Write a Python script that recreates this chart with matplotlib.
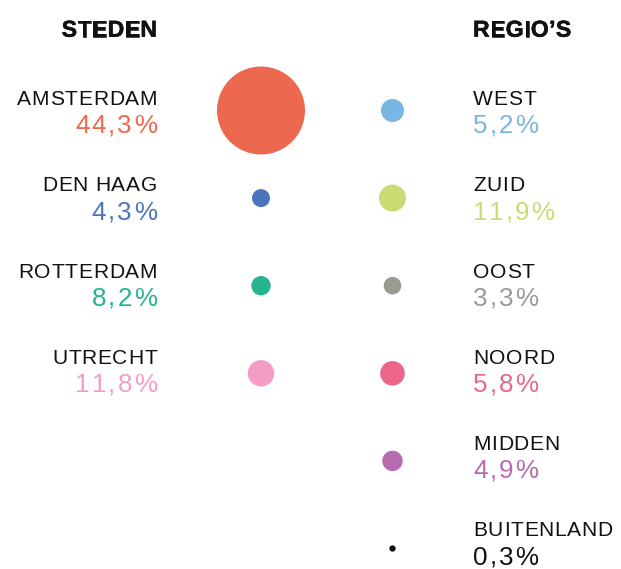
import matplotlib
matplotlib.use('Agg')
import matplotlib.pyplot as plt
import matplotlib.patheffects as pe
import numpy as np
from matplotlib.font_manager import FontProperties, findfont, get_font

# ---- data ----
cities = ['AMSTERDAM', 'DEN HAAG', 'ROTTERDAM', 'UTRECHT']
city_pct = [44.3, 4.3, 8.2, 11.8]
city_bubble = [44.3, 1.85, 2.15, 3.99]        # relative bubble area
city_colors = ['#EC684E', '#4A75BA', '#26B38F', '#F49CC4']

regions = ['WEST', 'ZUID', 'OOST', 'NOORD', 'MIDDEN', 'BUITENLAND']
region_pct = [5.2, 11.9, 3.3, 5.8, 4.9, 0.3]
region_bubble = [3.03, 4.17, 1.77, 3.46, 2.38, 0.23]
region_colors = ['#7AB6E3', '#CBDA72', '#9A9A90', '#EC6689', '#B86AAE', '#111111']

headings = ['STEDEN', 'REGIO\u2019S']

# ---- figure ----
W, H, DPI = 621, 569, 100
fig = plt.figure(figsize=(W / DPI, H / DPI), dpi=DPI)
ax = fig.add_axes([0, 0, 1, 1])
ax.set_axis_off()

col_px = (261, 392.5)
row0_px, row_step = 110.5, 87.6
text_row_scale = 86.3 / 87.6
x_unit = col_px[1] - col_px[0]
ax.set_xlim(-col_px[0] / x_unit, (W - col_px[0]) / x_unit)
ax.set_ylim((H - row0_px) / row_step, -row0_px / row_step)

R_MAX_PX = 44.0
ref_val = max(city_bubble)


def sizes(vals):
    r_px = R_MAX_PX * np.sqrt(np.asarray(vals) / ref_val)
    return (2 * r_px * 72 / DPI) ** 2


ax.scatter(np.zeros(len(cities)), np.arange(len(cities)), s=sizes(city_bubble),
           c=city_colors, linewidths=0, zorder=2)
ax.scatter(np.ones(len(regions)), np.arange(len(regions)), s=sizes(region_bubble),
           c=region_colors, linewidths=0, zorder=2)


def tracked(x, y, s, dx, dy, track, ha, size_px, color, weight='normal',
            family='Liberation Sans', effects=None):
    size_pt = size_px * 72 / DPI
    prop = FontProperties(family=family, size=size_pt, weight=weight)
    font = get_font(findfont(prop))
    font.set_size(size_pt, DPI)
    advs = [font.load_char(ord(ch)).linearHoriAdvance / 65536 for ch in s]
    total = sum(advs) + track * (len(s) - 1)
    pos = dx - total if ha == 'right' else dx
    for ch, a in zip(s, advs):
        t = ax.annotate(ch, (x, y), xytext=(pos, dy), textcoords='offset pixels',
                        ha='left', va='baseline', fontproperties=prop, color=color,
                        annotation_clip=False)
        if effects:
            t.set_path_effects(effects)
        pos += a + track


def fmt(v):
    return f'{v:.1f}'.replace('.', ',') + '%'


LABEL_PX, PCT_PX, HEAD_PX = 21, 26, 23
LABEL_TRACK, PCT_TRACK = 0.75, 2.0
CITY_DX, REGION_DX = -104, 80.5
LABEL_DY, PCT_DY, HEAD_DY = 5.5, -22.8, 73.8
head_fx = [pe.withStroke(linewidth=0.4, foreground='#111111')]

tracked(0, 0, headings[0], CITY_DX, HEAD_DY, 0.4, 'right', HEAD_PX, '#111111',
        weight='bold', effects=head_fx)
tracked(1, 0, headings[1], REGION_DX, HEAD_DY, 0.4, 'left', HEAD_PX, '#111111',
        weight='bold', effects=head_fx)

for i, (name, v, c) in enumerate(zip(cities, city_pct, city_colors)):
    ty = i * text_row_scale
    tracked(0, ty, name, CITY_DX, LABEL_DY, LABEL_TRACK, 'right', LABEL_PX, '#111111')
    tracked(0, ty, fmt(v), CITY_DX, PCT_DY, PCT_TRACK, 'right', PCT_PX, c)

for i, (name, v, c) in enumerate(zip(regions, region_pct, region_colors)):
    ty = i * text_row_scale
    tracked(1, ty, name, REGION_DX, LABEL_DY, LABEL_TRACK, 'left', LABEL_PX, '#111111')
    tracked(1, ty, fmt(v), REGION_DX, PCT_DY, PCT_TRACK, 'left', PCT_PX, c)

fig.savefig('out.png', dpi=DPI, facecolor='white')
